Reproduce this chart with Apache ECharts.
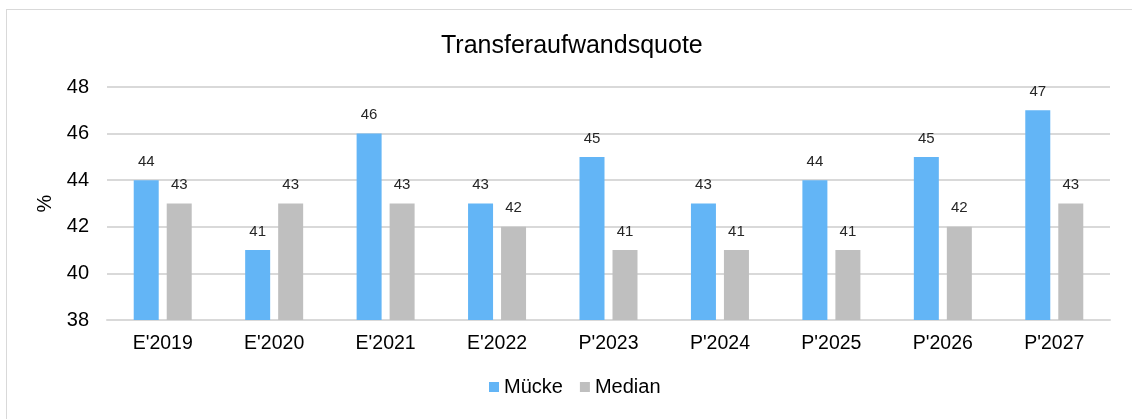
<!DOCTYPE html>
<html>
<head>
<meta charset="utf-8">
<script src="https://cdn.jsdelivr.net/npm/echarts@6/dist/echarts.min.js"></script>
<style>
  html, body { margin: 0; padding: 0; background: #fff; overflow: hidden; }
  #frame { position: absolute; left: 6px; top: 9px; width: 1140px; height: 420px; border: 1px solid #d9d9d9; box-sizing: border-box; }
  #chart { position: absolute; left: 0; top: 0; width: 1132px; height: 419px; }
</style>
</head>
<body>
<div id="frame"></div>
<div id="chart"></div>
<script>
// data
var categories = ["E'2019", "E'2020", "E'2021", "E'2022", "P'2023", "P'2024", "P'2025", "P'2026", "P'2027"]
var muecke = [44, 41, 46, 43, 45, 43, 44, 45, 47]
var median = [43, 43, 43, 42, 41, 41, 41, 42, 43]

var font = 'Liberation Sans, Arial, sans-serif'
var chart = echarts.init(document.getElementById('chart'))

var labelStyle = {
    show: true,
    position: 'top',
    distance: 11,
    color: '#262626',
    fontSize: 15,
    fontFamily: font
}

chart.setOption({
    animation: false,
    title: {
        text: 'Transferaufwandsquote',
        left: 436,
        top: 29,
        textStyle: { color: '#000', fontSize: 25, fontWeight: 'normal', fontFamily: font }
    },
    legend: {
        data: ['Mücke', 'Median'],
        bottom: 17,
        left: 484,
        itemWidth: 10,
        itemHeight: 10,
        itemGap: 17,
        icon: 'rect',
        textStyle: { color: '#000', fontSize: 20, fontFamily: font }
    },
    grid: { left: 107, right: 22, top: 87, bottom: 99 },
    xAxis: {
        type: 'category',
        data: categories,
        axisLine: { lineStyle: { color: '#d9d9d9', width: 2 } },
        axisTick: { show: false },
        axisLabel: { color: '#000', fontSize: 19.5, fontFamily: font, margin: 14 }
    },
    yAxis: {
        type: 'value',
        min: 38,
        max: 48,
        interval: 2,
        name: '%',
        nameLocation: 'middle',
        nameGap: 42,
        nameTextStyle: { color: '#000', fontSize: 20, fontFamily: font },
        axisLine: { show: false },
        axisTick: { show: false },
        axisLabel: { color: '#000', fontSize: 20, fontFamily: font, margin: 18 },
        splitLine: { lineStyle: { color: '#d9d9d9', width: 2 } }
    },
    series: [
        {
            name: 'Mücke',
            type: 'bar',
            data: muecke,
            barWidth: 25,
            barGap: '32%',
            itemStyle: { color: '#63b5f6' },
            label: labelStyle
        },
        {
            name: 'Median',
            type: 'bar',
            data: median,
            barWidth: 25,
            itemStyle: { color: '#bfbfbf' },
            label: labelStyle
        }
    ]
})
</script>
</body>
</html>
